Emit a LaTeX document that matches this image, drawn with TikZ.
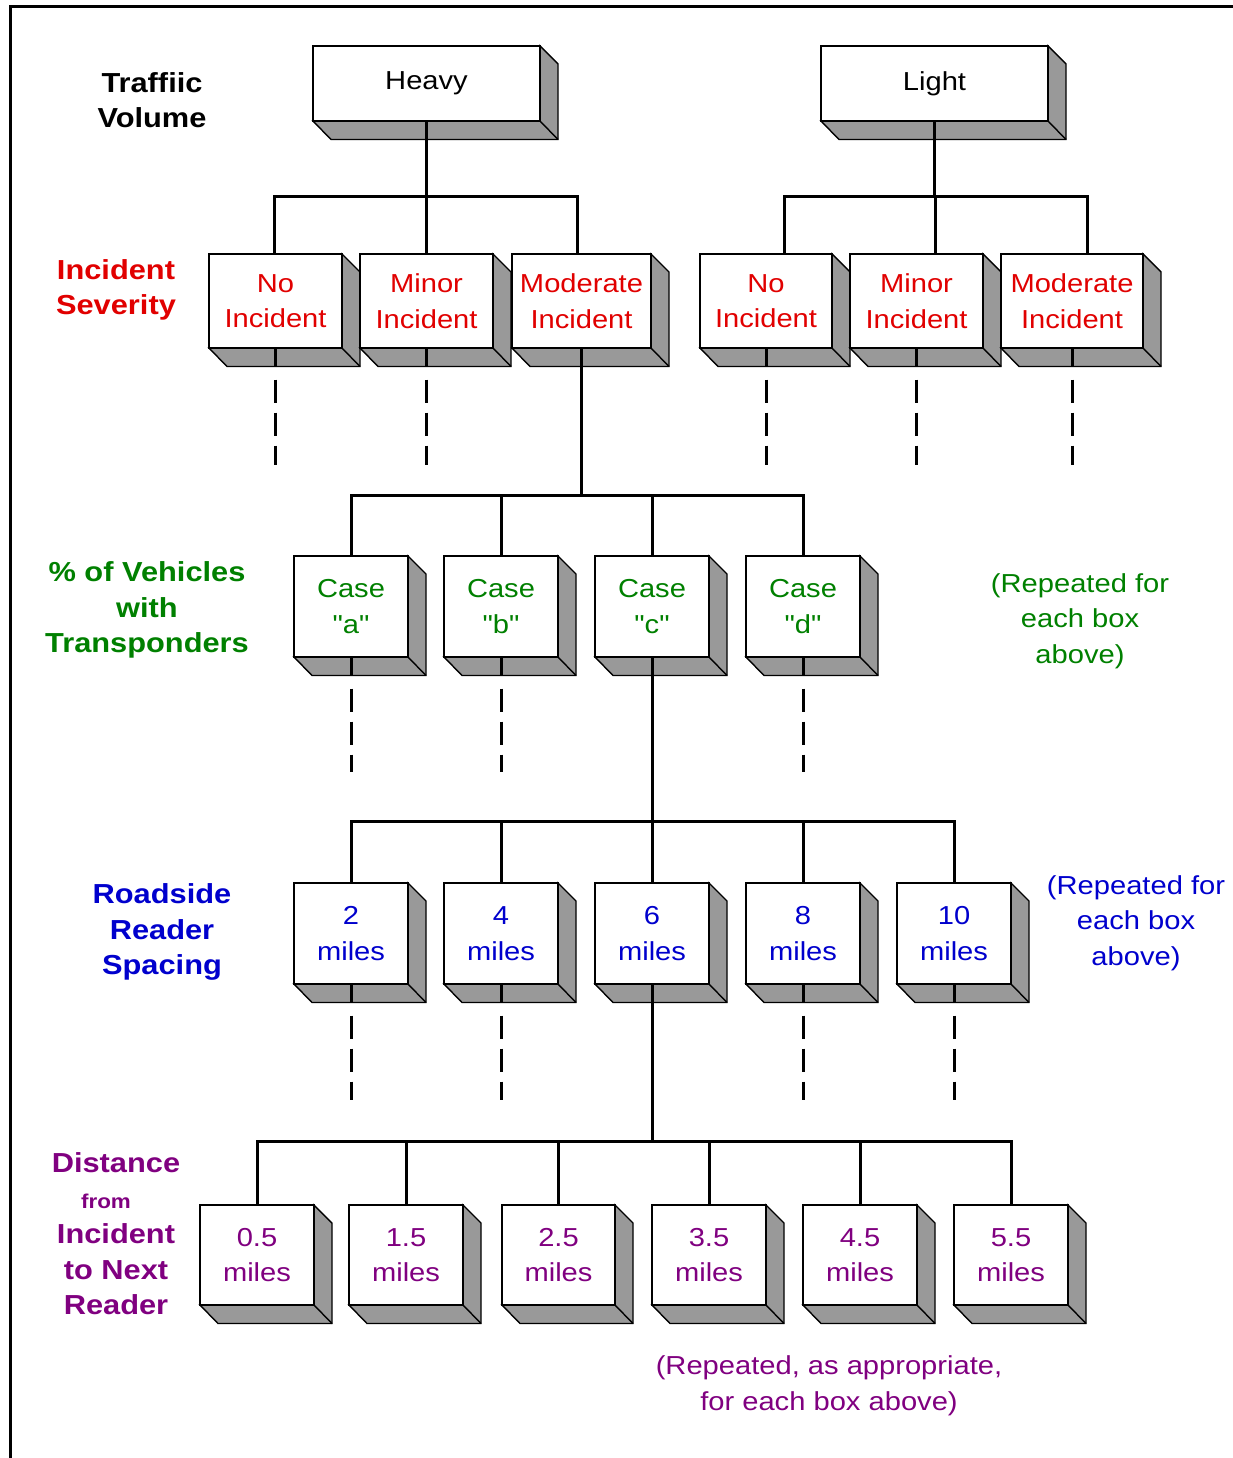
\documentclass[tikz,border=0pt]{standalone}
\usepackage{fontspec}
\setmainfont[FakeStretch=1.12, Ligatures=TeXOff]{Liberation Sans}
\usetikzlibrary{calc}
\definecolor{tred}{RGB}{225,0,0}
\definecolor{tgreen}{RGB}{0,128,0}
\definecolor{tblue}{RGB}{0,0,205}
\definecolor{tpurple}{RGB}{128,0,128}
\definecolor{shadegray}{RGB}{153,153,153}
\newcommand\fsz{\fontsize{26}{35.5}\selectfont}
\newcommand\bfsz{\fontsize{27.5}{35.5}\selectfont}
\tikzset{
  front/.style={draw=black, line width=1.4pt, fill=white, rectangle, inner sep=0pt, align=center, font=\fsz},
  shadow3d/.style={fill=shadegray, draw=black, line width=1.4pt, line join=miter},
  conn/.style={line width=3pt},
  dconn/.style={line width=3pt, dash pattern=on 23pt off 10pt},
  lbl/.style={align=center, font=\bfsz\bfseries, inner sep=0pt},
  note/.style={align=center, font=\fsz, inner sep=0pt},
}
% name, x0, y0, x1, y1, colour, text
\newcommand\tbox[7]{%
  \fill[shadow3d] (#2,#5) -- (#4,#5) -- (#4,#3) -- (#4+18,#3+18) -- (#4+18,#5+18.5) -- (#2+18,#5+18.5) -- cycle;
  \draw[line width=1.4pt] (#4,#5) -- (#4+18,#5+18.5);
  \node[front, text=#6, minimum width={#4pt-#2pt}, minimum height={#5pt-#3pt}] (#1) at ({(#2+#4)/2},{(#3+#5)/2}) {#7};
}
\begin{document}
\begin{tikzpicture}[x=1pt,y=-1pt]
\useasboundingbox (0,0) rectangle (1233,1458);
\draw[line width=3pt] (1233,7) -- (10,7) -- (10,1458);

% ---- boxes
\tbox{heavy}{313}{46}{540}{121}{black}{Heavy}
\tbox{light}{821}{46}{1048}{121}{black}{Light}

\tbox{h1}{209}{254}{342}{348}{tred}{No\\Incident}
\tbox{h2}{360}{254}{493}{348}{tred}{Minor\\Incident}
\tbox{h3}{512}{254}{651}{348}{tred}{Moderate\\Incident}
\tbox{l1}{700}{254}{832}{348}{tred}{No\\Incident}
\tbox{l2}{850}{254}{983}{348}{tred}{Minor\\Incident}
\tbox{l3}{1001}{254}{1143}{348}{tred}{Moderate\\Incident}

\tbox{ca}{294}{556}{408}{657}{tgreen}{Case\\"a"}
\tbox{cb}{444}{556}{558}{657}{tgreen}{Case\\"b"}
\tbox{cc}{595}{556}{709}{657}{tgreen}{Case\\"c"}
\tbox{cd}{746}{556}{860}{657}{tgreen}{Case\\"d"}

\tbox{m2}{294}{883}{408}{984}{tblue}{2\\miles}
\tbox{m4}{444}{883}{558}{984}{tblue}{4\\miles}
\tbox{m6}{595}{883}{709}{984}{tblue}{6\\miles}
\tbox{m8}{746}{883}{860}{984}{tblue}{8\\miles}
\tbox{m10}{897}{883}{1011}{984}{tblue}{10\\miles}

\tbox{d05}{200}{1205}{314}{1305}{tpurple}{0.5\\miles}
\tbox{d15}{349}{1205}{463}{1305}{tpurple}{1.5\\miles}
\tbox{d25}{502}{1205}{615}{1305}{tpurple}{2.5\\miles}
\tbox{d35}{652}{1205}{766}{1305}{tpurple}{3.5\\miles}
\tbox{d45}{803}{1205}{917}{1305}{tpurple}{4.5\\miles}
\tbox{d55}{954}{1205}{1068}{1305}{tpurple}{5.5\\miles}

% ---- bus coordinates
\coordinate (busH) at (426,197);
\coordinate (busL) at (936,197);
\coordinate (bus1) at (581,495);
\coordinate (bus2) at (652,821);
\coordinate (bus3) at (652,1141);

% ---- heavy tree
\draw[conn] (heavy.south) -- (h2.north);
\draw[conn] ($(h1.north)+(-1.5,0)$) -- ($(h1.north |- busH)+(-1.5,0)$) -- ($(h3.north |- busH)+(-4.5,0)$) -- ($(h3.north)+(-4.5,0)$);
% ---- light tree
\draw[conn] (light.south) -- (light.south |- busL);
\draw[conn] ($(l1.north)+(18,0)$) -- ($(l1.north |- busL)+(18,0)$) -- ($(l3.north |- busL)+(15,0)$) -- ($(l3.north)+(15,0)$);
\draw[conn] ($(l2.north)+(19,0)$) -- ($(l2.north |- busL)+(19,0)$);

% ---- severity dashes
\foreach \b in {h1,h2,l1,l2,l3}{
  \draw[conn] (\b.south) -- ++(0,18.5);
  \draw[dconn] ($(\b.south)+(0,31)$) -- (\b.south |- 0,465);
}
% ---- moderate -> cases
\draw[conn] (h3.south) -- (h3.south |- bus1);
\draw[conn] (ca.north) -- (ca.north |- bus1) -- (cd.north |- bus1) -- (cd.north);
\draw[conn] (cb.north) -- (cb.north |- bus1);
\draw[conn] (cc.north) -- (cc.north |- bus1);

% ---- case dashes
\foreach \b in {ca,cb,cd}{
  \draw[conn] (\b.south) -- ++(0,18.5);
  \draw[dconn] ($(\b.south)+(0,31)$) -- (\b.south |- 0,772);
}
% ---- case c -> miles
\draw[conn] (cc.south) -- (m6.north);
\draw[conn] (m2.north) -- (m2.north |- bus2) -- (m10.north |- bus2) -- (m10.north);
\draw[conn] (m4.north) -- (m4.north |- bus2);
\draw[conn] (m8.north) -- (m8.north |- bus2);

% ---- miles dashes
\foreach \b in {m2,m4,m8,m10}{
  \draw[conn] (\b.south) -- ++(0,18.5);
  \draw[dconn] ($(\b.south)+(0,31)$) -- (\b.south |- 0,1100);
}
% ---- 6 miles -> distances
\draw[conn] (m6.south) -- (m6.south |- bus3);
\draw[conn] (d05.north) -- (d05.north |- bus3) -- (d55.north |- bus3) -- (d55.north);
\draw[conn] (d15.north) -- (d15.north |- bus3);
\draw[conn] (d25.north) -- (d25.north |- bus3);
\draw[conn] (d35.north) -- (d35.north |- bus3);
\draw[conn] (d45.north) -- (d45.north |- bus3);

% ---- left labels
\node[lbl, text=black] (lblTV) at (152,100) {Traffiic\\Volume};
\node[lbl, text=tred] (lblIS) at (116,290) {Incident\\Severity};
\node[lbl, text=tgreen] (lblVT) at (147,610) {\% of Vehicles\\with\\Transponders};
\node[lbl, text=tblue] (lblRS) at (162,932) {Roadside\\Reader\\Spacing};
\node[lbl, text=tpurple] (lblDI) at (116,1234) {Distance\\{\fontsize{20}{35.5}\selectfont from}\rule{20pt}{0pt}\\Incident\\to Next\\Reader};

% ---- notes
\node[note, text=tgreen] (noteC) at (1080,621) {(Repeated for\\each box\\above)};
\node[note, text=tblue] (noteM) at (1136,923) {(Repeated for\\each box\\above)};
\node[note, text=tpurple] (noteD) at (829,1386) {(Repeated, as appropriate,\\for each box above)};
\end{tikzpicture}
\end{document}
